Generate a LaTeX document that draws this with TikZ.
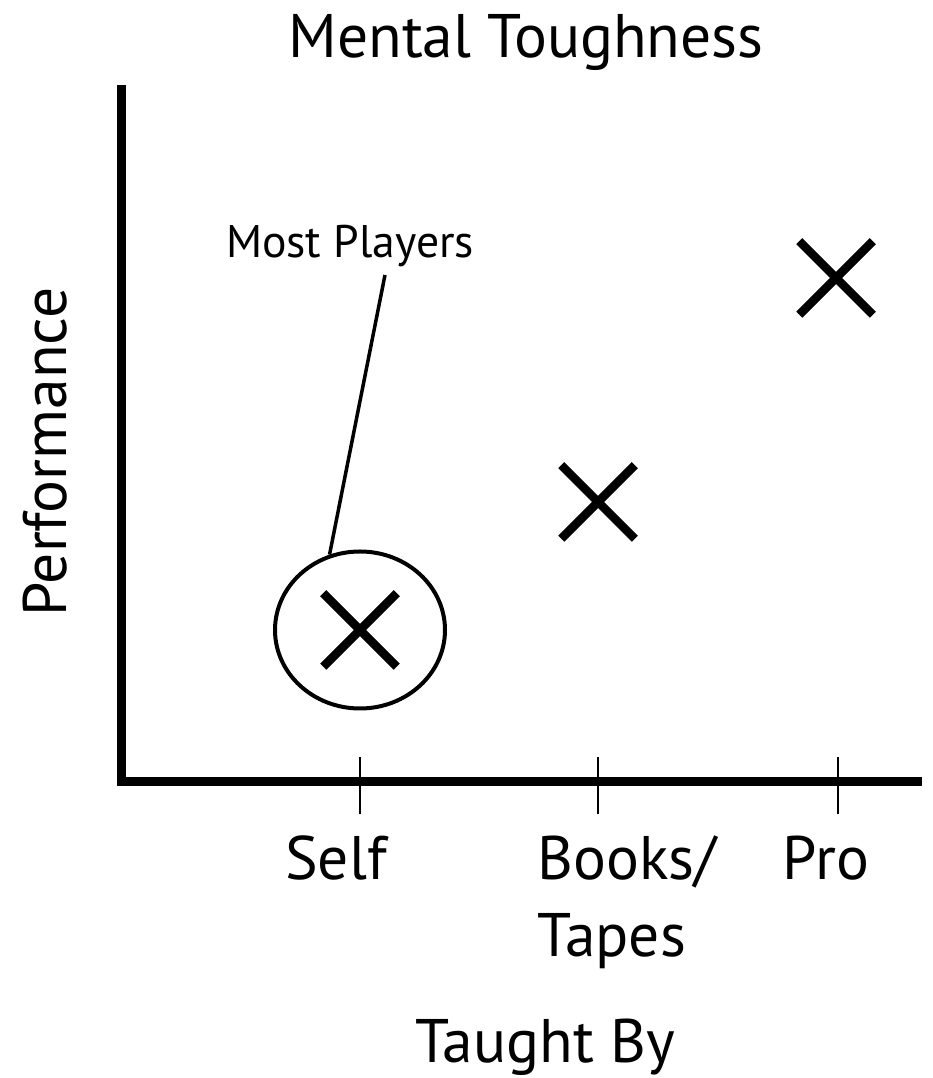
\documentclass[tikz,border=0pt]{standalone}
\usepackage{fontspec}
\setmainfont{PT Sans}
\usetikzlibrary{shapes.misc,shapes.geometric}

\begin{document}
\begin{tikzpicture}[
    axis/.style={line width=0.18cm},
    tickmark/.style={line width=0.04cm},
    xmark/.style={cross out, draw, line width=0.17cm, minimum size=1.30cm, inner sep=0pt},
    bigtext/.style={font=\fontsize{35}{44}\selectfont, inner sep=0pt, anchor=base},
    smalltext/.style={font=\fontsize{26}{31}\selectfont, inner sep=0pt, anchor=base}
  ]
  \useasboundingbox (0,0) rectangle (18.64,21.56);

  % axes
  \coordinate (corner) at (2.42,5.92);
  \coordinate (ytop) at (2.42,19.86);
  \coordinate (xend) at (18.44,5.92);
  \draw[axis] (ytop) -- (corner) -- (xend);

  \foreach \x/\nm in {7.20/tself, 11.96/tbooks, 16.76/tpro}{
    \coordinate (\nm) at (\x,5.92);
    \draw[tickmark] (\nm) ++(0,0.50) -- ++(0,-1.14);
  }

  % labels
  \node[bigtext] (title) at (10.52,20.40) {Mental Toughness};
  \node[bigtext] (self) at (6.72,3.96) {Self};
  \node[bigtext, anchor=base west, align=left] (books) at (10.74,2.42) {Books/\\Tapes};
  \node[bigtext] (pro) at (16.52,3.96) {Pro};
  \node[bigtext] (taught) at (10.90,0.30) {Taught By};
  \node[bigtext, rotate=90] (perf) at (1.34,12.52) {Performance};

  % data
  \node[xmark] (xself) at (7.20,8.96) {};
  \node[xmark] (xbooks) at (11.96,11.52) {};
  \node[xmark] (xpro) at (16.72,16.00) {};

  \node[ellipse, draw, line width=0.08cm, minimum width=3.40cm, minimum height=3.14cm, inner sep=0pt] (ring) at (7.20,8.96) {};

  \node[smalltext] (players) at (7.00,16.40) {Most Players};
  \coordinate (leadtop) at (7.70,16.06);
  \draw[line width=0.07cm] (leadtop) -- (ring.112);
\end{tikzpicture}
\end{document}
